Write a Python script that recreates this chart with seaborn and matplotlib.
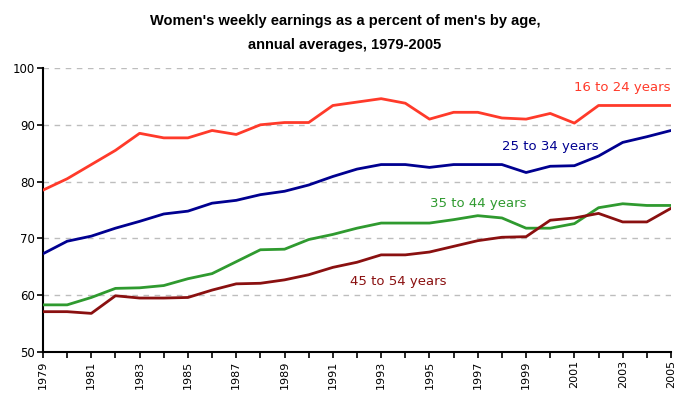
import numpy as np
import pandas as pd
import matplotlib
matplotlib.use("Agg")
import matplotlib.pyplot as plt
import seaborn as sns
from matplotlib.ticker import MultipleLocator, FixedLocator

years = list(range(1979, 2006))

age_16_24 = [78.5, 80.5, 83.0, 85.5, 88.5, 87.7, 87.7, 89.0, 88.3, 90.0, 90.4, 90.4, 93.4,
             94.0, 94.6, 93.8, 91.0, 92.2, 92.2, 91.2, 91.0, 92.0, 90.3, 93.4, 93.4, 93.4, 93.4]
age_25_34 = [67.3, 69.5, 70.4, 71.8, 73.0, 74.3, 74.8, 76.2, 76.7, 77.7, 78.3, 79.4, 80.9,
             82.2, 83.0, 83.0, 82.5, 83.0, 83.0, 83.0, 81.6, 82.7, 82.8, 84.5, 86.9, 87.9, 89.0]
age_35_44 = [58.3, 58.3, 59.6, 61.2, 61.3, 61.7, 62.9, 63.8, 65.9, 68.0, 68.1, 69.8, 70.7,
             71.8, 72.7, 72.7, 72.7, 73.3, 74.0, 73.6, 71.8, 71.8, 72.6, 75.4, 76.1, 75.8, 75.8]
age_45_54 = [57.1, 57.1, 56.8, 59.9, 59.5, 59.5, 59.6, 60.9, 62.0, 62.1, 62.7, 63.6, 64.9,
             65.8, 67.1, 67.1, 67.6, 68.6, 69.6, 70.2, 70.3, 73.2, 73.6, 74.4, 72.9, 72.9, 75.3]

groups = ["16 to 24 years", "25 to 34 years", "35 to 44 years", "45 to 54 years"]
colors = ["#ff3a2a", "#000090", "#2f9a2f", "#8a1010"]
year_ticks = list(range(1979, 2006, 2))

df = pd.DataFrame({
    "year": years * 4,
    "pct": age_16_24 + age_25_34 + age_35_44 + age_45_54,
    "group": [g for g in groups for _ in years],
})

sns.set_style("white")
plt.rcParams["font.family"] = ["DejaVu Sans"]
plt.rcParams["text.color"] = "black"

fig = plt.figure(figsize=(6.9, 4.07), dpi=100)
ax = fig.add_axes([43 / 690, 1 - 352 / 407, 628 / 690, 284 / 407])

sns.lineplot(data=df, x="year", y="pct", hue="group", palette=colors,
             linewidth=2.0, legend=False, ax=ax, zorder=3)

ax.set_xlim(1979, 2005)
ax.set_ylim(50, 100)
ax.set_xlabel("")
ax.set_ylabel("")

ax.xaxis.set_major_locator(FixedLocator(year_ticks))
ax.xaxis.set_minor_locator(MultipleLocator(1))
ax.yaxis.set_major_locator(MultipleLocator(10))
ax.tick_params(axis="x", which="both", direction="out", length=4, width=1.2,
               colors="black", labelsize=8, rotation=90, pad=2, bottom=True)
ax.tick_params(axis="y", which="major", direction="out", length=4, width=1.2,
               colors="black", labelsize=8.5, pad=2, left=True)

for v in [60, 70, 80, 90, 100]:
    ax.axhline(v, color="#bdbdbd", linestyle=(0, (4, 4)), linewidth=1.0, zorder=1)

for s in ["top", "right"]:
    ax.spines[s].set_visible(False)
for s in ["left", "bottom"]:
    ax.spines[s].set_color("black")
    ax.spines[s].set_linewidth(1.5)

# series labels
label_pos = [(2003.0, 96.6), (2000.0, 86.1), (1997.0, 76.2), (1993.7, 62.5)]
for g, c, (lx, ly) in zip(groups, colors, label_pos):
    ax.text(lx, ly, g, color=c, fontsize=9.5, ha="center", va="center")

fig.text(0.5, 1 - 33 / 407, "Women's weekly earnings as a percent of men's by age,\nannual averages, 1979-2005",
         ha="center", va="center", fontsize=10.5, fontweight="bold", color="black",
         family=["Liberation Sans", "DejaVu Sans"], linespacing=1.9)

fig.savefig("out.png", dpi=100)
